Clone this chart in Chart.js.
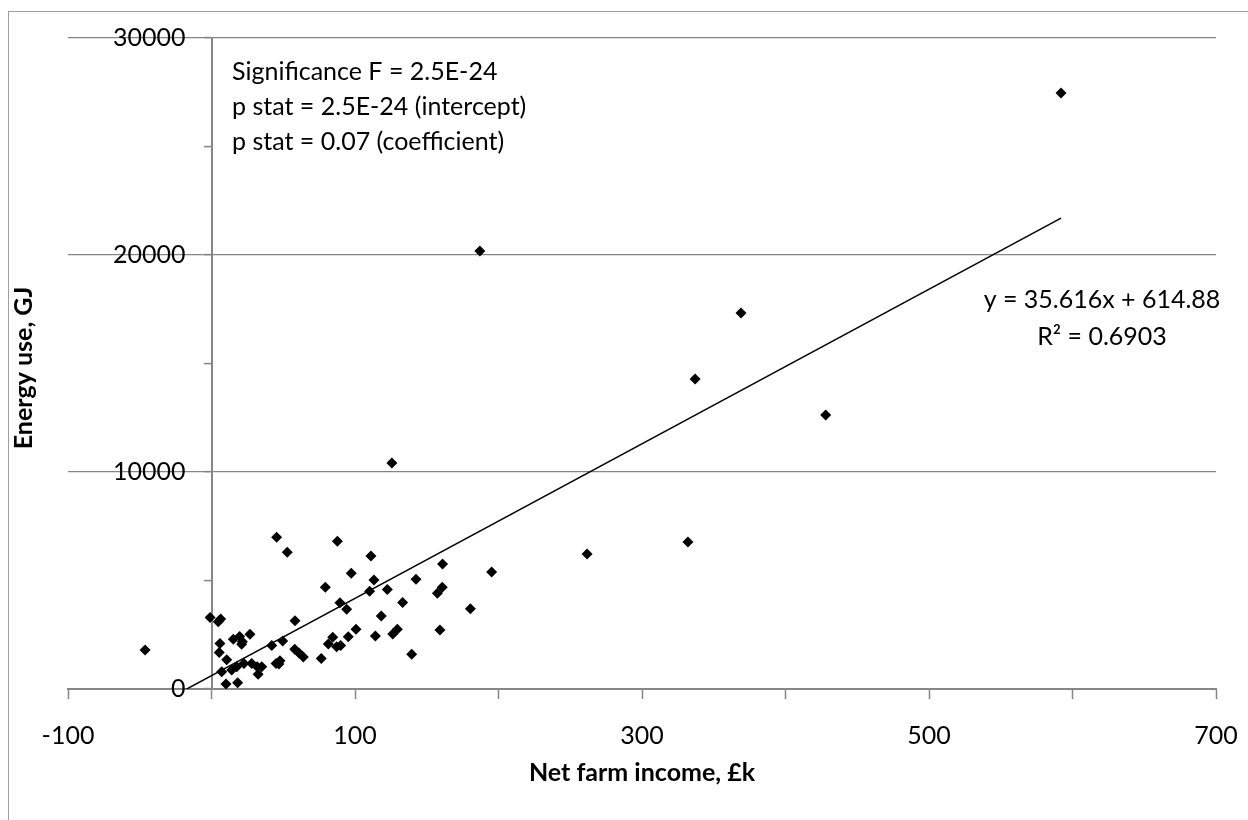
<!DOCTYPE html>
<html>
<head>
<meta charset="utf-8">
<script src="https://cdn.jsdelivr.net/npm/chart.js@4"></script>
<style>
    html, body { margin: 0; padding: 0; background: #fff; overflow: hidden; }
    #frame { position: absolute; left: 8px; top: 11px; width: 1400px; height: 1000px; border-left: 1px solid #a0a0a0; border-top: 1px solid #a0a0a0; }
    #wrap { position: absolute; left: 0; top: 0; width: 1248px; height: 820px; }
</style>
</head>
<body>
<div id="frame"></div>
<div id="wrap"><canvas id="chart" width="1248" height="820"></canvas></div>
<script>
// ===== ENERGY USE vs NET FARM INCOME =====

const FONT = 'Lato, "Open Sans", sans-serif';

// ---- data ----
const netIncome = [
    -46.3, -1, 4.7, 6.4, 5.9, 5.4, 10.6, 7.1, 14.1, 17.6,
    22.6, 10.1, 18.2, 15.2, 19.6, 21.5, 21, 26.8, 28, 31.9,
    32.5, 35, 42, 49.6, 45, 47.7, 47, 45.4, 52.8, 58.2,
    58, 61, 64, 76.5, 79.3, 84.5, 81.4, 87.2, 90, 87.7,
    89.5, 94.2, 95.3, 97.4, 100.7, 110.2, 111.1, 113.2, 114.2, 118.3,
    122.5, 125.7, 126.3, 129.5, 133.2, 139.5, 142.5, 157.4, 159.2, 160.8,
    161, 180.4, 187, 195.2, 261.7, 332, 337, 369, 428, 592
];
const energyUse = [
    1800, 3300, 3100, 3230, 2100, 1680, 1350, 800, 880, 1030,
    1180, 230, 290, 2290, 2420, 2180, 2060, 2520, 1180, 1030,
    680, 1030, 2010, 2210, 1170, 1300, 1150, 6990, 6300, 3150,
    1830, 1660, 1470, 1410, 4690, 2380, 2070, 1950, 2000, 6810,
    3980, 3670, 2410, 5330, 2750, 4500, 6130, 5020, 2440, 3360,
    4590, 10420, 2540, 2750, 3990, 1600, 5060, 4410, 2720, 4690,
    5760, 3700, 20180, 5390, 6220, 6770, 14290, 17330, 12630, 27470
];

const xTickLabels = [-100, 100, 300, 500, 700];
const yTickLabels = [0, 10000, 20000, 30000];

// linear trendline as printed on the chart
const trendSlope = 35.616;
const trendIntercept = 614.88;
const eqLines = ['y = 35.616x + 614.88', 'R\u00B2 = 0.6903'];
const statLines = ['Significance F = 2.5E-24', 'p stat = 2.5E-24 (intercept)', 'p stat = 0.07 (coefficient)'];

const xTitle = 'Net farm income, \u00A3k';
const yTitle = 'Energy use, GJ';

// ---- build datasets ----
const points = netIncome.map((x, i) => ({ x, y: energyUse[i] }));
const xLo = Math.min(...netIncome);
const xHi = Math.max(...netIncome);
const trend = [xLo, xHi].map(x => ({ x, y: trendSlope * x + trendIntercept }));

const GREY = '#868686';
const Y_LABEL_GAP = 26; // space between the crossing y axis and its labels

const notesPlugin = {
    id: 'notes',
    beforeDraw(chart) {
        // y axis sits at x = 0, so push its labels left of the line
        const items = chart.scales.y.getLabelItems();
        if (!items._shifted) {
            items.forEach(it => {
                const tr = (it.options && it.options.translation) || it.translation;
                if (tr) tr[0] -= Y_LABEL_GAP;
            });
            items._shifted = true;
        }
    },
    afterDraw(chart) {
        const ctx = chart.ctx;
        ctx.save();
        ctx.fillStyle = '#000';
        ctx.textBaseline = 'middle';
        ctx.font = `25px ${FONT}`;
        ctx.textAlign = 'left';
        statLines.forEach((t, i) => ctx.fillText(t, 232, 72 + i * 35));
        ctx.textAlign = 'center';
        eqLines.forEach((t, i) => ctx.fillText(t, 1102, 300 + i * 37));
        // vertical axis title
        ctx.translate(24, 368);
        ctx.rotate(-Math.PI / 2);
        ctx.font = `bold 25px ${FONT}`;
        ctx.fillText(yTitle, 0, 0);
        ctx.restore();
    }
};

new Chart(document.getElementById('chart'), {
    type: 'scatter',
    data: {
        datasets: [
            {
                label: 'Farms', data: points,
                pointStyle: 'rectRot', pointRadius: 5.5, pointHoverRadius: 5.5,
                backgroundColor: '#000', borderColor: '#000', borderWidth: 0
            },
            {
                label: 'Linear trend', data: trend, showLine: true,
                borderColor: '#000', borderWidth: 1.5, pointRadius: 0, fill: false
            }
        ]
    },
    options: {
        responsive: false, animation: false,
        layout: { padding: { left: 68, right: 32, top: 38, bottom: 0 } },
        plugins: { legend: { display: false }, tooltip: { enabled: false } },
        scales: {
            x: {
                type: 'linear', min: -100, max: 700,
                afterFit: s => { s.height = 131; s.paddingLeft = 0; s.paddingRight = 0; },
                ticks: {
                    stepSize: 100, autoSkip: false, maxRotation: 0, padding: 22, color: '#000',
                    font: { family: FONT, size: 25 },
                    callback: v => xTickLabels.includes(v) ? String(v) : ''
                },
                grid: { drawOnChartArea: false, tickLength: 10, tickColor: GREY, tickWidth: 1.5 },
                border: { color: GREY, width: 2 },
                title: {
                    display: true, text: xTitle, color: '#000',
                    font: { family: FONT, size: 25, weight: 'bold' },
                    padding: { top: 0, bottom: 32 }
                }
            },
            y: {
                type: 'linear', min: 0, max: 30000, position: { x: 0 },
                ticks: {
                    stepSize: 5000, padding: 18, color: '#000',
                    font: { family: FONT, size: 25 },
                    callback: v => yTickLabels.includes(v) ? String(v) : ''
                },
                grid: {
                    color: c => (c.tick && c.tick.value % 10000 === 0) ? GREY : 'rgba(0,0,0,0)',
                    lineWidth: 1.2, tickColor: GREY, tickLength: 7, tickWidth: 1.5
                },
                border: { color: GREY, width: 2 }
            }
        }
    },
    plugins: [notesPlugin]
});
</script>
</body>
</html>
